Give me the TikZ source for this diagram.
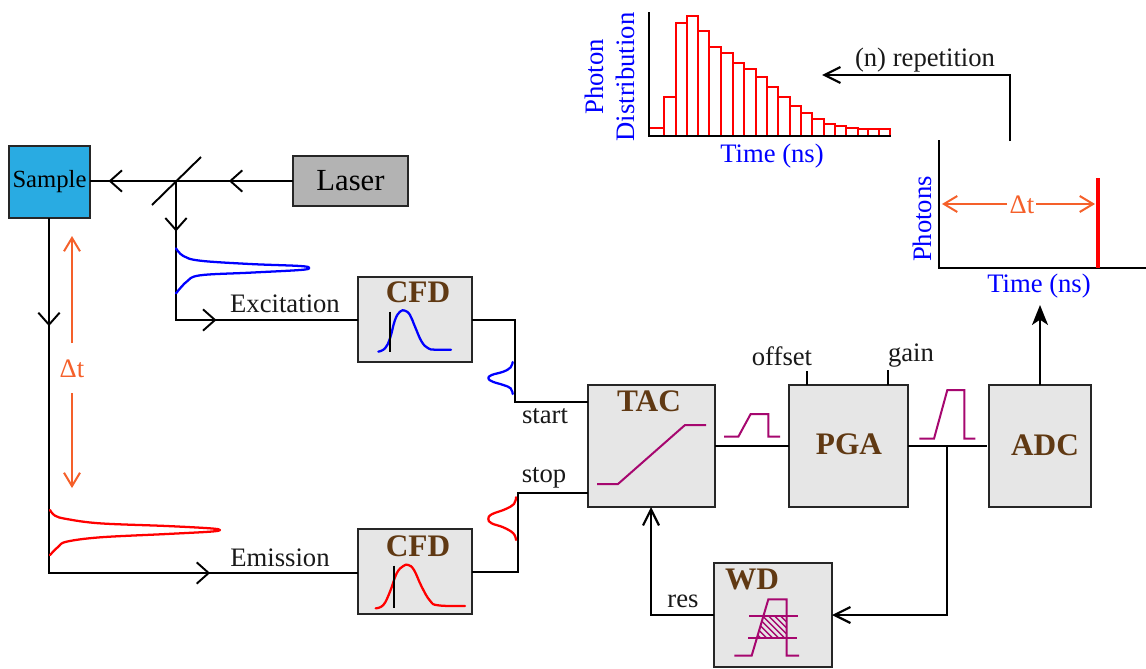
\documentclass[tikz,border=0pt]{standalone}
\usepackage{fontspec}
\setmainfont{Liberation Serif}
\usetikzlibrary{arrows.meta,decorations.markings,calc}
\definecolor{samplecol}{HTML}{29ABE2}
\definecolor{lasercol}{HTML}{B3B3B3}
\definecolor{boxcol}{HTML}{E6E6E6}
\definecolor{titlecol}{HTML}{603913}
\definecolor{orangecol}{HTML}{F5602A}
\definecolor{wavecol}{HTML}{A6076F}
\definecolor{bluecol}{HTML}{0000FF}
\definecolor{redcol}{HTML}{FF0000}
\tikzset{
  boxbase/.style={draw=black!85,line width=1.5pt,inner sep=0pt,outer sep=0pt},
  wire/.style={draw=black,line width=1.45pt},
  lab/.style={font=\fontsize{20pt}{24pt}\selectfont,text=black!90,inner sep=0pt},
  axlab/.style={font=\fontsize{20pt}{24pt}\selectfont,text=bluecol,inner sep=0pt},
  ttl/.style={font=\fontsize{23.5pt}{27pt}\selectfont\bfseries,text=titlecol,inner sep=0pt},
  dlab/.style={font=\fontsize{20pt}{24pt}\selectfont,text=orangecol,inner sep=0pt},
  midtip/.style={postaction={decorate,decoration={markings,mark=at position #1 with {\draw[black,line width=1.45pt] (-9pt,-8pt)--(0pt,0pt)--(-9pt,8pt);}}}},
  barb/.style={-{Straight Barb[length=12pt,width=12pt,line width=1.6pt]}},
  obarb/.style={-{Straight Barb[length=10pt,width=12pt,line width=1.5pt]},draw=orangecol,line width=1.5pt},
  solidtip/.style={-{Stealth[length=15pt,width=12pt,inset=4pt]}},
  curve/.style={line width=1.7pt,line cap=round,line join=round},
  wave/.style={draw=wavecol,line width=1.5pt},
  axis/.style={draw=black,line width=1.6pt},
  zoomed/.style={shift={#1},x=0.25pt,y=-0.25pt}
}
\newcommand{\pxbox}[7]{% name x1 y1 x2 y2 fill text
  \node[boxbase,fill=#6,minimum width={(#4-#2)*0.75pt},minimum height={(#5-#3)*0.75pt}] (#1) at ({(#2+#4)/2},{(#3+#5)/2}) {#7};}
\begin{document}
\begin{tikzpicture}[x=0.75pt,y=-0.75pt]
\useasboundingbox[fill=white] (0,0) rectangle (1146,668);

% boxes
\pxbox{sample}{9}{146}{90}{218}{samplecol}{\fontsize{18.5pt}{22pt}\selectfont Sample}
\pxbox{laser}{293}{156}{408}{206}{lasercol}{\fontsize{23pt}{26pt}\selectfont Laser}
\pxbox{cfdA}{358}{277}{472}{362}{boxcol}{}
\pxbox{cfdB}{358}{529}{472}{614}{boxcol}{}
\pxbox{tac}{588}{385}{715}{507}{boxcol}{}
\pxbox{pga}{789}{385}{908}{507}{boxcol}{}
\pxbox{adc}{989}{385}{1091}{507}{boxcol}{}
\pxbox{wd}{714}{563}{832}{667}{boxcol}{}

% box titles
\node[ttl] (tCfdA) at (418,292) {CFD};
\node[ttl] (tCfdB) at (418,546) {CFD};
\node[ttl] (tTac) at (649,401) {TAC};
\node[ttl] (tPga) at (849,444) {PGA};
\node[ttl] (tAdc) at (1045,445) {ADC};
\node[ttl] (tWd) at (752,579) {WD};

% junction points
\coordinate (mirrorA) at (152,205);
\coordinate (mirrorB) at (201,157);
\coordinate (junc) at (176,181);
\coordinate (excCorner) at (176,320);
\coordinate (emCorner) at (49,573);
\coordinate (startA) at (515,320);
\coordinate (startB) at (515,402);
\coordinate (stopA) at (518,572);
\coordinate (stopB) at (518,493);
\coordinate (resCorner) at (651,615);
\coordinate (adcEnd) at (987,446);
\coordinate (split) at (947,446);
\coordinate (wdCorner) at (947,615);
\coordinate (offsetEnd) at (807,371);
\coordinate (gainEnd) at (888,370);
\coordinate (adcOut) at (1040,305);
\coordinate (repStart) at (1010,141);
\coordinate (repCorner) at (1010,75);
\coordinate (repEnd) at (822,75);

% connectors
\draw[wire,midtip=47pt] (laser.west |- junc) -- (junc);
\draw[wire,midtip=49.5pt] (junc) -- (sample.east |- junc);
\draw[wire] (mirrorA) -- (mirrorB);
\draw[wire,midtip=36.75pt,midtip=133.5pt] (junc) -- (excCorner) -- (excCorner -| cfdA.west);
\draw[wire,midtip=80pt,midtip=386pt] (emCorner |- sample.south) -- (emCorner) -- (emCorner -| cfdB.west);
\draw[wire] (startA -| cfdA.east) -- (startA) -- (startB) -- (startB -| tac.west);
\draw[wire] (stopA -| cfdB.east) -- (stopA) -- (stopB) -- (stopB -| tac.west);
\draw[wire] (tac.east) -- (pga.west);
\draw[wire] (pga.east) -- (adcEnd);
\draw[wire,barb] (split) -- (wdCorner) -- (wdCorner -| wd.east);
\draw[wire,barb] (wd.west |- resCorner) -- (resCorner) -- (resCorner |- tac.south);
\draw[wire] (offsetEnd |- pga.north) -- (offsetEnd);
\draw[wire] (gainEnd |- pga.north) -- (gainEnd);
\draw[wire,solidtip] (adcOut |- adc.north) -- (adcOut);
\draw[wire,barb] (repStart) -- (repCorner) -- (repEnd);

% labels
\node[lab] (lExc) at (285,304) {Excitation};
\node[lab] (lEm) at (280,558) {Emission};
\node[lab] (lStart) at (545,416) {start};
\node[lab] (lStop) at (544,478) {stop};
\node[lab] (lRes) at (683,601) {res};
\node[lab] (lOffset) at (782,356) {offset};
\node[lab] (lGain) at (911,356) {gain};
\node[lab] (lRep) at (925,60) {(n) repetition};

% delta-t, left
\node[dlab] (dtA) at (72,369) {Δt};
\draw[obarb] (72,343) -- (72,236);
\draw[obarb] (72,393) -- (72,488);

% excitation / emission pulses
\begin{scope}[zoomed={(0,130)}]
\draw[bluecol,curve] plot[smooth,tension=.6] coordinates {(528,355)(550,378)(600,392)(750,402)(900,408)(928,414)(900,420)(750,428)(600,436)(560,455)(528,490)};
\end{scope}
\begin{scope}[zoomed={(0,370)}]
\draw[redcol,curve] plot[smooth,tension=.6] coordinates {(150,420)(165,437)(200,447)(300,460)(500,468)(630,475)(660,480)(630,485)(500,492)(300,502)(200,515)(175,530)(150,555)};
\end{scope}

% CFD and start pulses
\begin{scope}[zoomed={(340,270)}]
\draw[bluecol,curve] plot[smooth,tension=.7] coordinates {(115,245)(135,235)(150,205)(165,150)(180,125)(195,122)(210,135)(225,170)(245,215)(265,235)(285,239)(333,239)};
\draw[black,line width=1.3pt] (150,125) -- (150,245);
\draw[bluecol,curve] plot[smooth,tension=.7] coordinates {(518,276)(512,292)(490,305)(455,315)(445,325)(458,335)(490,345)(512,355)(518,372)};
\end{scope}
\begin{scope}[zoomed={(340,470)}]
\draw[redcol,curve] plot[smooth,tension=.7] coordinates {(107,415)(130,405)(150,365)(170,310)(190,288)(205,285)(222,300)(245,350)(270,392)(295,406)(375,408)};
\draw[black,line width=1.3pt] (161,287) -- (161,415);
\draw[redcol,curve] plot[smooth,tension=.7] coordinates {(528,82)(522,102)(495,118)(455,133)(445,147)(455,160)(490,172)(520,190)(528,210)};
\end{scope}

% magenta waveforms
\draw[wave] (597,484) -- (618,484) -- (685,425) -- (706,425);
\begin{scope}[zoomed={(700,340)}]
\draw[wave] (72,290) -- (115,290) -- (152,222) -- (205,222) -- (205,290) -- (240,290);
\draw[wave] (658,296) -- (702,296) -- (742,150) -- (793,150) -- (793,296) -- (826,296);
\begin{scope}
\clip (190,828) -- (260,828) -- (260,895) -- (172,895) -- cycle;
\foreach \k in {460,478,...,780}
  \draw[wavecol,line width=1pt] (0,\k) -- ++(400,400);
\end{scope}
\draw[wave] (103,947) -- (155,947) -- (205,778) -- (260,778) -- (260,947) -- (297,947);
\draw[wave] (148,828) -- (295,828);
\draw[wave] (145,895) -- (290,895);
\end{scope}

% pulse-height plot
\draw[axis] (939,140) -- (939,268) -- (1146,268);
\draw[redcol,line width=3.2pt] (1098,178) -- (1098,268);
\node[axlab,rotate=90] (yPh) at (922,219) {Photons};
\node[axlab] (xPh) at (1039,286) {Time (ns)};
\node[dlab] (dtB) at (1022,205) {Δt};
\draw[obarb] (1007,204) -- (942,204);
\draw[obarb] (1036,204) -- (1095,204);

% histogram
\draw[redcol,line width=1.5pt,line join=miter]
  (649,128) -- (663.7,128) -- (663.7,97) -- (675.5,97) -- (675.5,23) -- (686.5,23) -- (686.5,16) -- (697.6,16) -- (697.6,31)
  -- (709,31) -- (709,47) -- (720.7,47) -- (720.7,53) -- (732.5,53) -- (732.5,63) -- (744,63) -- (744,69) -- (755.7,69) -- (755.7,77)
  -- (767,77) -- (767,87) -- (778,87) -- (778,97) -- (789.5,97) -- (789.5,106) -- (801,106) -- (801,113) -- (812,113) -- (812,119)
  -- (823.7,119) -- (823.7,124) -- (834.7,124) -- (834.7,126) -- (846,126) -- (846,128) -- (857.5,128) -- (857.5,129) -- (890,129) -- (890,136);
\foreach \xx/\yy in {663.7/128,675.5/97,686.5/23,697.6/16,709/31,720.7/47,732.5/53,744/63,755.7/69,767/77,778/87,789.5/97,801/106,812/113,823.7/119,834.7/124,846/126,857.5/128,868/129,879/129}
  \draw[redcol,line width=1.5pt] (\xx,\yy) -- (\xx,136);
\draw[axis] (649,12) -- (649,136) -- (891,136);
\node[axlab,rotate=90] (yDa) at (594,77) {Photon};
\node[axlab,rotate=90] (yDb) at (625,77) {Distribution};
\node[axlab] (xD) at (772,156) {Time (ns)};
\end{tikzpicture}
\end{document}
